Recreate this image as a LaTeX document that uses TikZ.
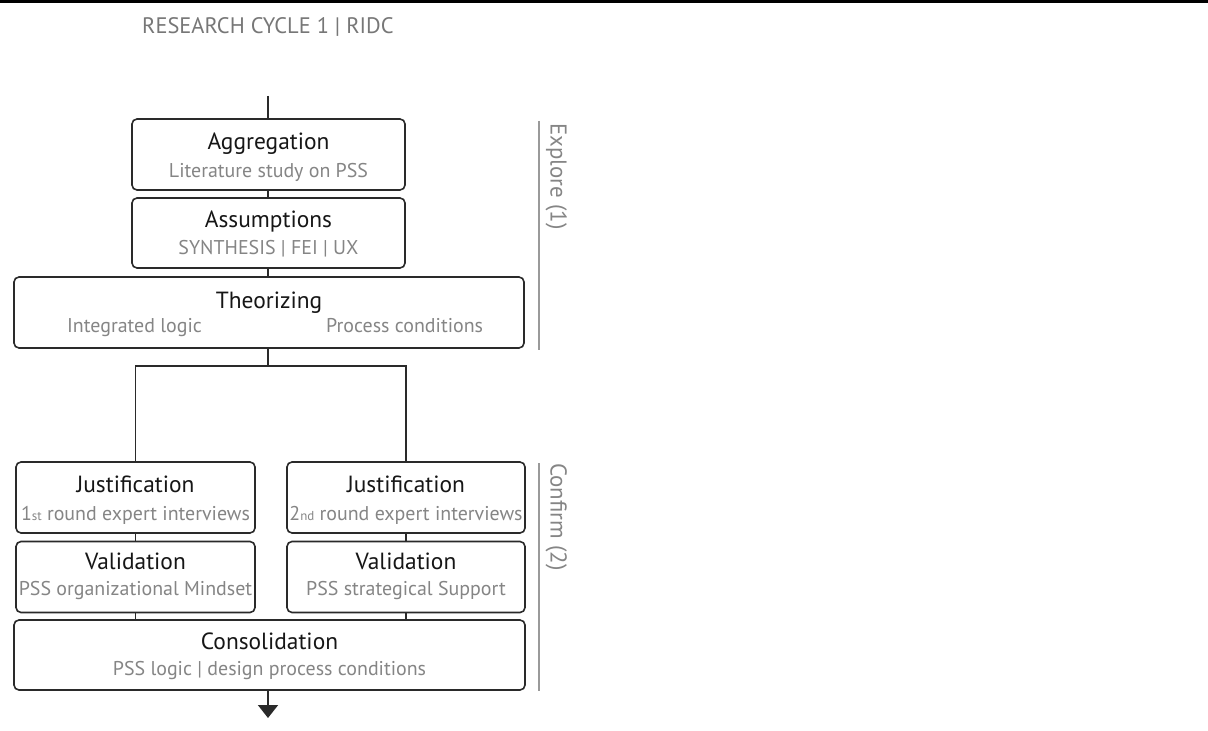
\documentclass[tikz,border=0pt]{standalone}
\usepackage{fontspec}
\setmainfont{PT Sans}
\usetikzlibrary{arrows.meta,calc}

\definecolor{inkdark}{HTML}{161616}
\definecolor{frame}{HTML}{2A2A2A}
\definecolor{subgray}{HTML}{858585}
\definecolor{headgray}{HTML}{777777}
\definecolor{sidegray}{HTML}{9A9A9A}

\tikzset{
  stagebox/.style={draw=frame, line width=1.6bp, rounded corners=5bp, fill=white,
    inner sep=0pt, outer sep=0pt},
  link/.style={draw=frame, line width=1.8bp},
  ttl/.style={text=inkdark, font=\fontsize{23.5}{23.5}\selectfont, inner sep=0pt, anchor=base},
  sub/.style={text=subgray, font=\fontsize{20}{20}\selectfont, inner sep=0pt, anchor=base},
  phase/.style={text=subgray, font=\fontsize{23}{23}\selectfont, inner sep=0pt,
    rotate=-90, anchor=base west},
  phaseline/.style={draw=sidegray, line width=1.4bp},
}
\newcommand{\smallsfx}[1]{{\fontsize{13}{13}\selectfont #1}}

\begin{document}
\begin{tikzpicture}[x=1bp,y=-1bp]
  \useasboundingbox (0,0) rectangle (1208,731);
  \fill[white] (0,0) rectangle (1208,731);
  % rule across the top
  \fill[black] (0,0) rectangle (1208,2.8);

  % heading
  \node[text=headgray, font=\fontsize{22.5}{22.5}\selectfont, inner sep=0pt, anchor=base west]
    (head) at (142,34) {RESEARCH CYCLE 1 | RIDC};

  % explore stages
  \node[stagebox, minimum width=273bp, minimum height=71bp] (agg) at (268.5,154.5) {};
  \node[ttl] (aggT) at ($(agg.north)+(0,31)$) {Aggregation};
  \node[sub] (aggS) at ($(agg.north)+(0,59)$) {Literature study on PSS};

  \node[stagebox, minimum width=273bp, minimum height=70bp] (ass) at (268.5,233) {};
  \node[ttl] (assT) at ($(ass.north)+(0,30)$) {Assumptions};
  \node[sub] (assS) at ($(ass.north)+(0,56)$) {SYNTHESIS | FEI | UX};

  \node[stagebox, minimum width=510bp, minimum height=71bp] (theo) at (269,312.5) {};
  \node[ttl] (theoT) at ($(theo.north)+(0,31)$) {Theorizing};
  \node[sub, anchor=base west] (theoL) at (67,332) {Integrated logic};
  \node[sub, anchor=base west] (theoR) at (326,332) {Process conditions};

  % confirm stages, two parallel tracks
  \node[stagebox, minimum width=239bp, minimum height=71bp] (jA) at (135.5,497.5) {};
  \node[ttl] (jAT) at ($(jA.north)+(0,30)$) {Justification};
  \node[sub] (jAS) at ($(jA.north)+(0,58)$) {1\smallsfx{st} round expert interviews};

  \node[stagebox, minimum width=238bp, minimum height=71bp] (jB) at (406,497.5) {};
  \node[ttl] (jBT) at ($(jB.north)+(0,30)$) {Justification};
  \node[sub] (jBS) at ($(jB.north)+(0,58)$) {2\smallsfx{nd} round expert interviews};

  \node[stagebox, minimum width=239bp, minimum height=71bp] (vA) at (135.5,577) {};
  \node[ttl] (vAT) at ($(vA.north)+(0,28)$) {Validation};
  \node[sub] (vAS) at ($(vA.north)+(0,54)$) {PSS organizational Mindset};

  \node[stagebox, minimum width=238bp, minimum height=71bp] (vB) at (406,577) {};
  \node[ttl] (vBT) at ($(vB.north)+(0,28)$) {Validation};
  \node[sub] (vBS) at ($(vB.north)+(0,54)$) {PSS strategical Support};

  \node[stagebox, minimum width=511bp, minimum height=70bp] (cons) at (269.5,655) {};
  \node[ttl] (consT) at ($(cons.north)+(0,29)$) {Consolidation};
  \node[sub] (consS) at ($(cons.north)+(0,55)$) {PSS logic | design process conditions};

  % connectors
  \coordinate (entry) at (268,96);
  \coordinate (split) at (268,366);
  \coordinate (exit) at (268,718);
  \draw[link] (entry) -- (entry |- agg.north);
  \draw[link] (agg.south -| entry) -- (ass.north -| entry);
  \draw[link] (ass.south -| entry) -- (theo.north -| entry);
  \draw[link] (theo.south -| entry) -- (split);
  \draw[link] (jA.north) |- (split) -| (jB.north);
  \draw[link] (jA.south) -- (vA.north);
  \draw[link] (jB.south) -- (vB.north);
  \draw[link] (vA.south) -- (vA.south |- cons.north);
  \draw[link] (vB.south) -- (vB.south |- cons.north);
  \draw[link, -{Triangle[width=20bp,length=13bp]}] (cons.south -| entry) -- (exit);

  % phase markers
  \coordinate (exTop) at (539,121);
  \coordinate (exBot) at (539,350);
  \coordinate (coTop) at (539,463);
  \coordinate (coBot) at (539,691);
  \draw[phaseline] (exTop) -- (exBot);
  \draw[phaseline] (coTop) -- (coBot);
  \node[phase] (explore) at (550.5,123) {Explore (1)};
  \node[phase] (confirm) at (550.5,463) {Confirm (2)};
\end{tikzpicture}
\end{document}
